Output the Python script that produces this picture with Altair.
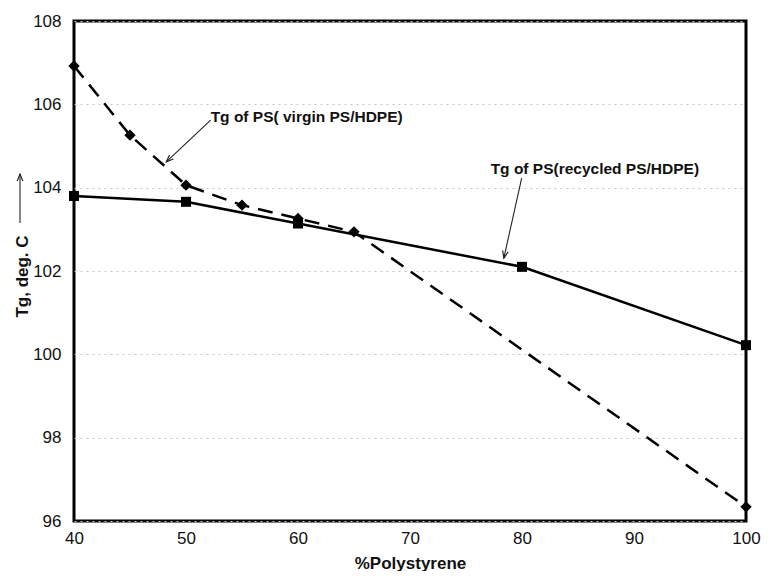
import math
import altair as alt
import pandas as pd

# ---- data ----
virgin_x = [40, 45, 50, 55, 60, 65, 100]
virgin_y = [106.92, 105.26, 104.06, 103.58, 103.26, 102.94, 96.34]

recycled_x = [40, 50, 60, 80, 100]
recycled_y = [103.80, 103.66, 103.14, 102.10, 100.22]

x_ticks = [40, 50, 60, 70, 80, 90, 100]
y_ticks = [96, 98, 100, 102, 104, 106, 108]

ann_labels = ["Tg of PS( virgin PS/HDPE)", "Tg of PS(recycled PS/HDPE)"]
ann_text_x = [52.2, 77.2]
ann_text_y = [105.70, 104.45]
arrow_x0 = [52.2, 79.97]
arrow_y0 = [105.62, 104.23]
arrow_x1 = [48.24, 78.38]
arrow_y1 = [104.62, 102.31]

W, H = 672, 500
X_DOM = [40, 100]
Y_DOM = [96, 108]
FONT = "Liberation Sans"

# arrow head rotation (screen degrees, clockwise)
angles = []
for a, b, c, d in zip(arrow_x0, arrow_y0, arrow_x1, arrow_y1):
    dx = (c - a) * W / (X_DOM[1] - X_DOM[0])
    dy = -(d - b) * H / (Y_DOM[1] - Y_DOM[0])
    angles.append(math.degrees(math.atan2(dx, -dy)) % 360)

virgin = pd.DataFrame({"x": virgin_x, "y": virgin_y})
recycled = pd.DataFrame({"x": recycled_x, "y": recycled_y})
ann = pd.DataFrame({"label": ann_labels, "tx": ann_text_x, "ty": ann_text_y,
                    "x0": arrow_x0, "y0": arrow_y0, "x1": arrow_x1, "y1": arrow_y1,
                    "angle": angles})

xs = alt.Scale(domain=X_DOM, nice=False, zero=False)
ys = alt.Scale(domain=Y_DOM, nice=False, zero=False)

x_axis = alt.Axis(title="%Polystyrene", values=x_ticks, grid=False, ticks=False,
                  domain=False, labelFontSize=17, labelPadding=9, labelFlush=False,
                  titleFontSize=17, titleFontWeight="bold", titlePadding=9)
y_axis = alt.Axis(title="Tg, deg. C", values=y_ticks, ticks=False, domain=False,
                  labelFontSize=17, labelPadding=13, labelFlush=False,
                  grid=True, gridColor="#c4c4c4", gridDash=[2, 4], gridWidth=1,
                  titleFontSize=17, titleFontWeight="bold",
                  titleX=-47, titleY=255, titleBaseline="alphabetic")

base_v = alt.Chart(virgin)
base_r = alt.Chart(recycled)

line_v = base_v.mark_line(color="black", strokeWidth=2.5, strokeDash=[15, 9]).encode(
    x=alt.X("x:Q", scale=xs, axis=x_axis),
    y=alt.Y("y:Q", scale=ys, axis=y_axis),
)
pts_v = base_v.mark_point(shape="diamond", filled=True, color="black", size=130, opacity=1).encode(
    x=alt.X("x:Q", scale=xs), y=alt.Y("y:Q", scale=ys))

line_r = base_r.mark_line(color="black", strokeWidth=2.5).encode(
    x=alt.X("x:Q", scale=xs), y=alt.Y("y:Q", scale=ys))
pts_r = base_r.mark_point(shape="square", filled=True, color="black", size=100, opacity=1).encode(
    x=alt.X("x:Q", scale=xs), y=alt.Y("y:Q", scale=ys))

ann_base = alt.Chart(ann)
ann_text = ann_base.mark_text(align="left", baseline="middle", font=FONT,
                              fontSize=15.5, fontWeight="bold", color="#111").encode(
    x=alt.X("tx:Q", scale=xs), y=alt.Y("ty:Q", scale=ys), text="label:N")
ann_rule = ann_base.mark_rule(color="#222", strokeWidth=1.1).encode(
    x=alt.X("x0:Q", scale=xs), y=alt.Y("y0:Q", scale=ys),
    x2="x1:Q", y2="y1:Q")
head_path = "M-0.6,1.5L0,0L0.6,1.5"
ann_head = ann_base.mark_point(shape=head_path, filled=False, color="#222",
                               strokeWidth=1.2, size=90, opacity=1).encode(
    x=alt.X("x1:Q", scale=xs), y=alt.Y("y1:Q", scale=ys),
    angle=alt.Angle("angle:Q", scale=None))

# arrow next to the y-axis title
one = pd.DataFrame({"k": [0]})
yarrow = alt.Chart(one).mark_rule(color="#222", strokeWidth=1.1).encode(
    x=alt.value(-54), y=alt.value(153), y2=alt.value(202))
yhead = alt.Chart(one).mark_point(shape=head_path, filled=False, color="#222",
                                  strokeWidth=1.2, size=90, opacity=1).encode(
    x=alt.value(-54), y=alt.value(153))

chart = alt.layer(line_v, line_r, pts_v, pts_r, ann_rule, ann_head, ann_text,
                  yarrow, yhead).properties(
    width=W, height=H,
    padding={"left": 5, "top": 4, "right": 0, "bottom": 0},
).configure(font=FONT).configure_view(stroke="black", strokeWidth=3).configure_axis(
    labelColor="#111", titleColor="#111", labelFont=FONT, titleFont=FONT)

chart.save("out.html", embed_options={"renderer": "svg", "actions": False})
